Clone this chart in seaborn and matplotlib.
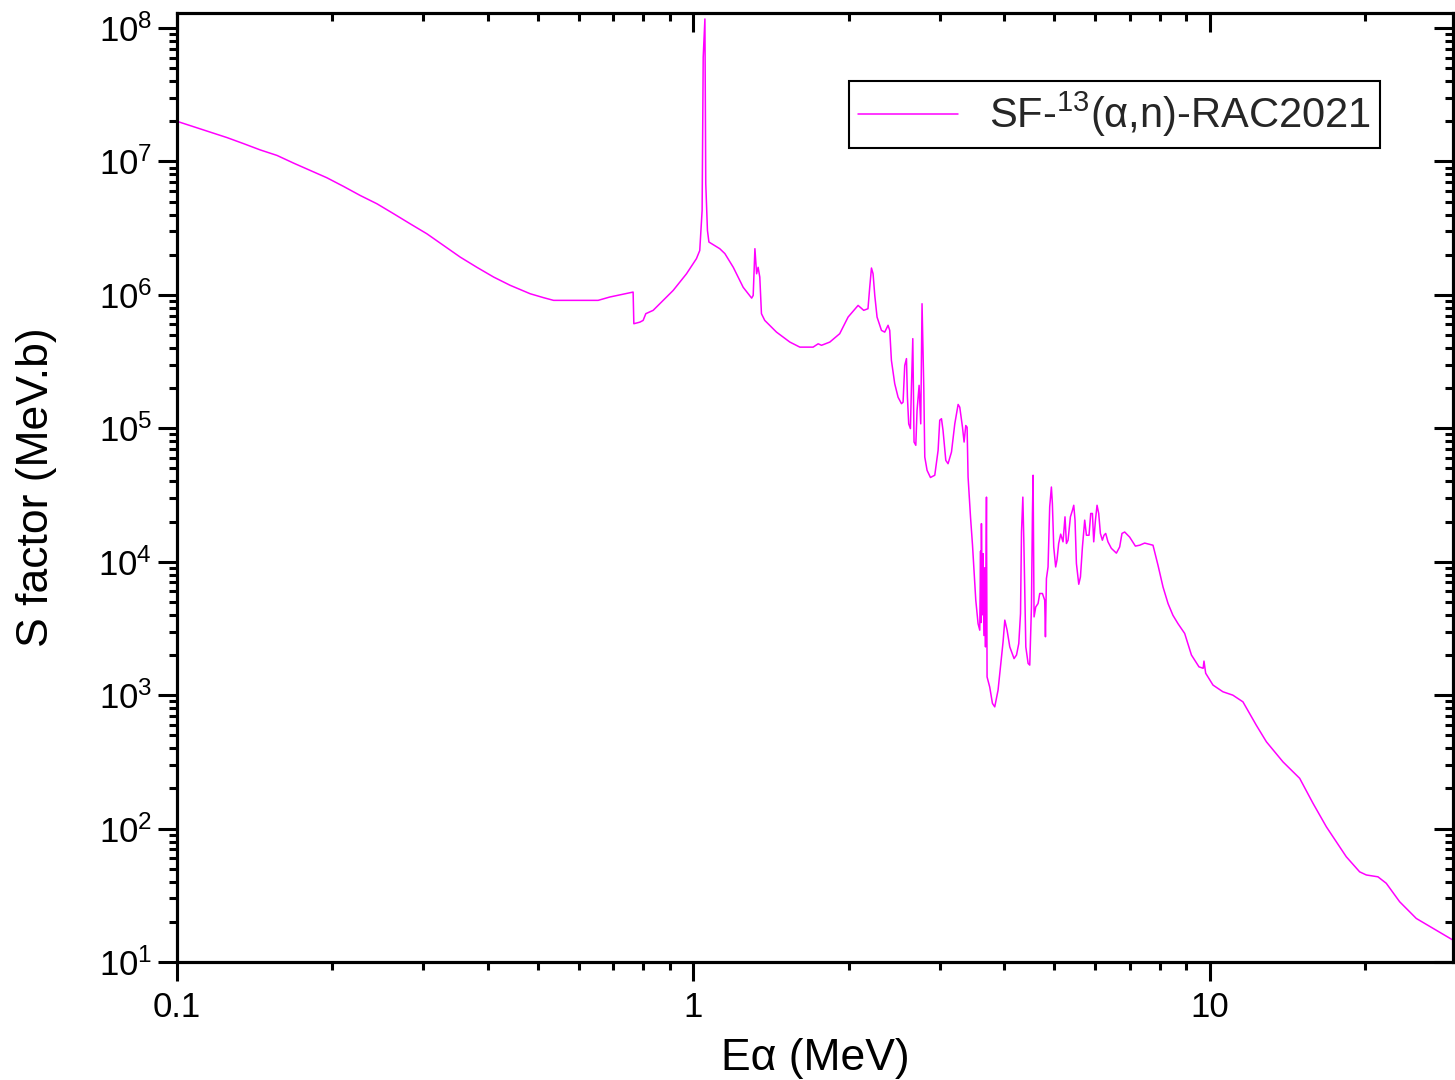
import numpy as np
import pandas as pd
import matplotlib
matplotlib.use("Agg")
import matplotlib.pyplot as plt
import matplotlib.ticker as mticker
import seaborn as sns

# ---- data ----
energy_mev = [
    0.1, 0.116, 0.125, 0.1346, 0.145, 0.1562, 0.1683, 0.1812, 0.1951, 0.2102,
    0.2264, 0.2439, 0.2627, 0.2829, 0.3048, 0.3283, 0.3536, 0.3809, 0.4105, 0.4418,
    0.4831, 0.5129, 0.5362, 0.5948, 0.654, 0.689, 0.737, 0.7645, 0.767, 0.788,
    0.7995, 0.809, 0.836, 0.914, 0.970, 1.014, 1.029, 1.040, 1.045, 1.053,
    1.057, 1.065, 1.072, 1.125, 1.151, 1.195, 1.249, 1.297, 1.306, 1.316,
    1.326, 1.335, 1.345, 1.355, 1.375, 1.449, 1.538, 1.608, 1.706, 1.745,
    1.771, 1.838, 1.921, 1.994, 2.085, 2.138, 2.179, 2.196, 2.213, 2.229,
    2.246, 2.269, 2.314, 2.348, 2.383, 2.401, 2.419, 2.455, 2.492, 2.530,
    2.548, 2.567, 2.587, 2.598, 2.613, 2.633, 2.645, 2.661, 2.676, 2.697,
    2.712, 2.737, 2.757, 2.773, 2.795, 2.807, 2.836, 2.879, 2.935, 2.979,
    3.001, 3.024, 3.045, 3.083, 3.114, 3.162, 3.209, 3.257, 3.281, 3.321,
    3.345, 3.370, 3.390, 3.405, 3.442, 3.473, 3.493, 3.524, 3.560, 3.587,
    3.600, 3.607, 3.614, 3.627, 3.640, 3.654, 3.668, 3.680, 3.696, 3.706,
    3.750, 3.796, 3.835, 3.892, 3.952, 3.980, 4.011, 4.052, 4.101, 4.180,
    4.226, 4.269, 4.302, 4.321, 4.347, 4.366, 4.405, 4.450, 4.483, 4.517,
    4.537, 4.550, 4.570, 4.604, 4.652, 4.687, 4.744, 4.792, 4.808, 4.829,
    4.864, 4.900, 4.937, 4.959, 4.989, 5.032, 5.062, 5.100, 5.146, 5.200,
    5.246, 5.280, 5.318, 5.374, 5.423, 5.455, 5.486, 5.520, 5.578, 5.620,
    5.670, 5.728, 5.772, 5.839, 5.884, 5.928, 5.963, 6.009, 6.052, 6.097,
    6.143, 6.197, 6.243, 6.290, 6.354, 6.451, 6.597, 6.694, 6.764, 6.846,
    6.999, 7.180, 7.320, 7.484, 7.767, 7.942, 8.122, 8.306, 8.489, 8.681,
    8.946, 9.219, 9.535, 9.714, 9.750, 9.824, 10.15, 10.61, 11.09, 11.60,
    12.31, 12.88, 13.87, 14.94, 15.85, 16.83, 18.39, 19.52, 20.11, 21.18,
    21.98, 23.33, 25.13, 27.06, 29.59,
]
s_factor = [
    2.00e7, 1.66e7, 1.51e7, 1.36e7, 1.22e7, 1.11e7, 9.71e6, 8.57e6, 7.55e6, 6.50e6,
    5.56e6, 4.82e6, 4.06e6, 3.41e6, 2.87e6, 2.35e6, 1.92e6, 1.61e6, 1.36e6, 1.18e6,
    1.02e6, 9.53e5, 9.10e5, 9.10e5, 9.10e5, 9.64e5, 1.02e6, 1.05e6, 6.08e5, 6.25e5,
    6.44e5, 7.23e5, 7.66e5, 1.08e6, 1.44e6, 1.87e6, 2.15e6, 4.30e6, 6.04e7, 1.17e8,
    6.84e6, 3.04e6, 2.49e6, 2.22e6, 2.04e6, 1.61e6, 1.14e6, 9.46e5, 9.91e5, 2.22e6,
    1.44e6, 1.61e6, 1.36e6, 7.23e5, 6.44e5, 5.26e5, 4.43e5, 4.06e5, 4.06e5, 4.30e5,
    4.19e5, 4.43e5, 5.12e5, 6.82e5, 8.34e5, 7.66e5, 7.88e5, 1.14e6, 1.59e6, 1.44e6,
    9.91e5, 6.82e5, 5.42e5, 5.26e5, 5.92e5, 5.42e5, 3.23e5, 2.16e5, 1.71e5, 1.53e5,
    1.57e5, 2.96e5, 3.33e5, 1.71e5, 1.08e5, 9.95e4, 2.04e5, 4.70e5, 7.89e4, 7.46e4,
    1.36e5, 2.10e5, 1.08e5, 8.59e5, 1.98e5, 6.10e4, 4.84e4, 4.28e4, 4.45e4, 6.84e4,
    1.15e5, 1.18e5, 9.66e4, 5.75e4, 5.43e4, 6.64e4, 1.08e5, 1.51e5, 1.44e5, 1.02e5,
    7.89e4, 1.05e5, 1.02e5, 4.32e4, 2.17e4, 1.33e4, 9.14e3, 5.15e3, 3.44e3, 3.07e3,
    1.20e4, 3.50e3, 1.93e4, 4.00e3, 1.15e4, 2.80e3, 9.00e3, 2.30e3, 3.05e4, 1.37e3,
    1.15e3, 867, 817, 1.09e3, 1.94e3, 2.51e3, 3.65e3, 3.07e3, 2.30e3, 1.88e3,
    2.00e3, 2.44e3, 4.09e3, 1.67e4, 3.05e4, 1.45e4, 2.30e3, 1.73e3, 1.68e3, 4.58e3,
    2.30e4, 4.45e4, 3.86e3, 4.58e3, 4.86e3, 5.78e3, 5.78e3, 5.15e3, 2.74e3, 7.48e3,
    9.14e3, 2.58e4, 3.63e4, 2.73e4, 1.29e4, 9.14e3, 1.03e4, 1.37e4, 1.61e4, 1.41e4,
    2.17e4, 1.37e4, 1.45e4, 2.17e4, 2.43e4, 2.65e4, 2.05e4, 9.70e3, 6.78e3, 7.69e3,
    1.29e4, 2.05e4, 1.58e4, 1.58e4, 2.30e4, 2.30e4, 1.41e4, 2.05e4, 2.65e4, 2.30e4,
    1.63e4, 1.45e4, 1.58e4, 1.63e4, 1.41e4, 1.26e4, 1.16e4, 1.29e4, 1.63e4, 1.67e4,
    1.53e4, 1.31e4, 1.33e4, 1.38e4, 1.33e4, 9.42e3, 6.47e3, 4.86e3, 3.97e3, 3.44e3,
    2.90e3, 2.00e3, 1.63e3, 1.59e3, 1.80e3, 1.46e3, 1.19e3, 1.06e3, 1.00e3, 891,
    596, 447, 316, 238, 155, 103, 61.5, 47.4, 44.9, 43.5,
    38.9, 28.3, 21.2, 17.9, 14.6,
]
series_label = "SF-$^{13}$(\u03b1,n)-RAC2021"
x_ticks = [0.1, 1, 10]
x_tick_labels = ["0.1", "1", "10"]
x_label = "E\u03b1 (MeV)"
y_label = "S factor (MeV.b)"

df = pd.DataFrame({"E": energy_mev, "S": s_factor})

# ---- style ----
sns.set_theme(style="white")
plt.rcParams["font.family"] = ["Liberation Sans", "DejaVu Sans"]
plt.rcParams["mathtext.fontset"] = "custom"
plt.rcParams["mathtext.rm"] = "Liberation Sans"
plt.rcParams["mathtext.it"] = "Liberation Sans:italic"
plt.rcParams["mathtext.bf"] = "Liberation Sans:bold"

W, H = 1455, 1080
fig = plt.figure(figsize=(W / 100, H / 100), dpi=100)
fig.patch.set_facecolor("white")
ax = fig.add_axes([177 / W, 118 / H, 1276 / W, 948.7 / H])

sns.lineplot(data=df, x="E", y="S", ax=ax, color="#FF00FF", linewidth=1.1,
             estimator=None, sort=False, label=series_label)

ax.set_xscale("log")
ax.set_yscale("log")
xlim = (0.1, 29.6)
ylim = (10, 1.29e8)
ax.set_xlim(*xlim)
ax.set_ylim(*ylim)

ax.set_xticks(x_ticks)
ax.set_xticklabels(x_tick_labels)
ax.xaxis.set_minor_locator(mticker.LogLocator(base=10, subs=np.arange(2, 10)))
ax.xaxis.set_minor_formatter(mticker.NullFormatter())
ax.yaxis.set_major_locator(mticker.LogLocator(base=10, numticks=20))
ax.yaxis.set_minor_locator(mticker.LogLocator(base=10, subs=np.arange(2, 10), numticks=20))
ax.yaxis.set_minor_formatter(mticker.NullFormatter())

lw = 2.2
for sp in ax.spines.values():
    sp.set_linewidth(lw)
    sp.set_color("black")

ax.tick_params(axis="both", which="major", direction="out", length=14, width=lw,
               labelsize=25, color="black", labelcolor="black")
ax.tick_params(axis="both", which="minor", direction="out", length=6, width=lw,
               color="black")
ax.tick_params(axis="x", which="major", pad=7)
ax.tick_params(axis="y", which="major", pad=4)

# mirrored inward ticks on top and right
axt = ax.twiny()
axt.set_xscale("log")
axt.set_xlim(*xlim)
axt.set_xticks(x_ticks)
axt.xaxis.set_minor_locator(mticker.LogLocator(base=10, subs=np.arange(2, 10)))
axt.tick_params(axis="x", which="major", direction="in", length=14, width=lw,
                labeltop=False, labelbottom=False, color="black")
axt.tick_params(axis="x", which="minor", direction="in", length=6, width=lw,
                color="black")
axr = ax.twinx()
axr.set_yscale("log")
axr.set_ylim(*ylim)
axr.yaxis.set_major_locator(mticker.LogLocator(base=10, numticks=20))
axr.yaxis.set_minor_locator(mticker.LogLocator(base=10, subs=np.arange(2, 10), numticks=20))
axr.tick_params(axis="y", which="major", direction="in", length=14, width=lw,
                labelright=False, labelleft=False, color="black")
axr.tick_params(axis="y", which="minor", direction="in", length=6, width=lw,
                color="black")
for a in (axt, axr):
    for sp in a.spines.values():
        sp.set_linewidth(lw)
        sp.set_color("black")

ax.set_xlabel(x_label, fontsize=32, color="black")
ax.set_ylabel(y_label, fontsize=32, color="black")
ax.xaxis.set_label_coords(0.5, (962 - 1038) / 948.7)
ax.yaxis.set_label_coords((57 - 177) / 1276, 0.5)

leg = ax.legend(loc="upper right", bbox_to_anchor=(0.943, 0.929), fontsize=30,
                frameon=True, fancybox=False, edgecolor="black",
                handlelength=2.4, handletextpad=0.75, borderpad=0.22,
                borderaxespad=0.0)
leg.get_frame().set_linewidth(1.5)
leg.get_frame().set_facecolor("white")
leg.get_frame().set_alpha(1)
axt.set_zorder(0)
axr.set_zorder(0)
ax.set_zorder(1)
ax.patch.set_visible(False)

fig.savefig("out.png", dpi=100, facecolor="white")
